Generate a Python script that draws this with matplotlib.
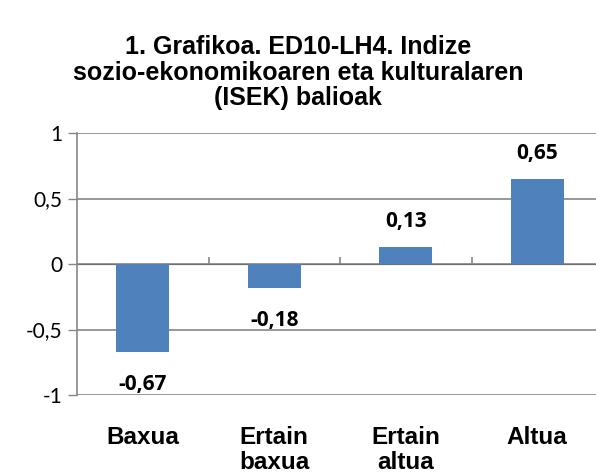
import numpy as np
import matplotlib.pyplot as plt

categories = ["Baxua", "Ertain\nbaxua", "Ertain\naltua", "Altua"]
values = [-0.67, -0.18, 0.13, 0.65]
value_labels = ["-0,67", "-0,18", "0,13", "0,65"]
yticks = [-1, -0.5, 0, 0.5, 1]
ytick_labels = ["-1", "-0,5", "0", "0,5", "1"]

title = "1. Grafikoa. ED10-LH4. Indize\nsozio-ekonomikoaren eta kulturalaren\n(ISEK) balioak"

grey = "#868686"
blue = "#4F81BD"

fig = plt.figure(figsize=(5.96, 4.74), dpi=100)
ax = fig.add_axes([77 / 596, 1 - 395 / 474, 526 / 596, (395 - 133) / 474])

x = np.arange(len(categories)) + 0.5
ax.bar(x, values, width=0.4, color=blue, zorder=3)

ax.set_xlim(0, len(categories))
ax.set_ylim(-1, 1)
ax.set_yticks(yticks)
ax.set_yticklabels(ytick_labels, fontfamily="Lato", fontsize=15)
ax.tick_params(axis="y", length=6.5, width=1, color=grey, pad=4)
ax.yaxis.grid(True, color=grey, linewidth=1.2, zorder=0)
ax.set_axisbelow(True)

# category labels under the plot, no tick marks
ax.set_xticks(x)
ax.set_xticklabels(categories, fontfamily="Liberation Sans", fontweight="bold", fontsize=17.5,
                   linespacing=1.15, va="top")
ax.tick_params(axis="x", length=0, pad=22)

for s in ["top", "right", "bottom"]:
    ax.spines[s].set_visible(False)
ax.spines["left"].set_color(grey)
ax.spines["left"].set_linewidth(1.2)

# zero line with boundary ticks
zero_ax = ax.secondary_xaxis(0.5)
zero_ax.set_xticks(np.arange(1, len(categories)))
zero_ax.set_xticklabels([])
zero_ax.tick_params(length=5, width=1.2, color=grey, direction="out")
zero_ax.spines["bottom"].set_color(grey)
zero_ax.spines["bottom"].set_linewidth(1.2)

for xi, v, lab in zip(x, values, value_labels):
    if v >= 0:
        ax.annotate(lab, (xi, v), xytext=(0, 10.5), textcoords="offset points",
                    ha="center", va="bottom", fontfamily="Open Sans", fontweight="bold", fontsize=15)
    else:
        ax.annotate(lab, (xi, v), xytext=(0, -16), textcoords="offset points",
                    ha="center", va="top", fontfamily="Open Sans", fontweight="bold", fontsize=15)

fig.text(0.5, 1 - 35 / 474, title, ha="center", va="top", fontfamily="Liberation Sans",
         fontweight="bold", fontsize=18, linespacing=1.08)

plt.savefig("out.png")
